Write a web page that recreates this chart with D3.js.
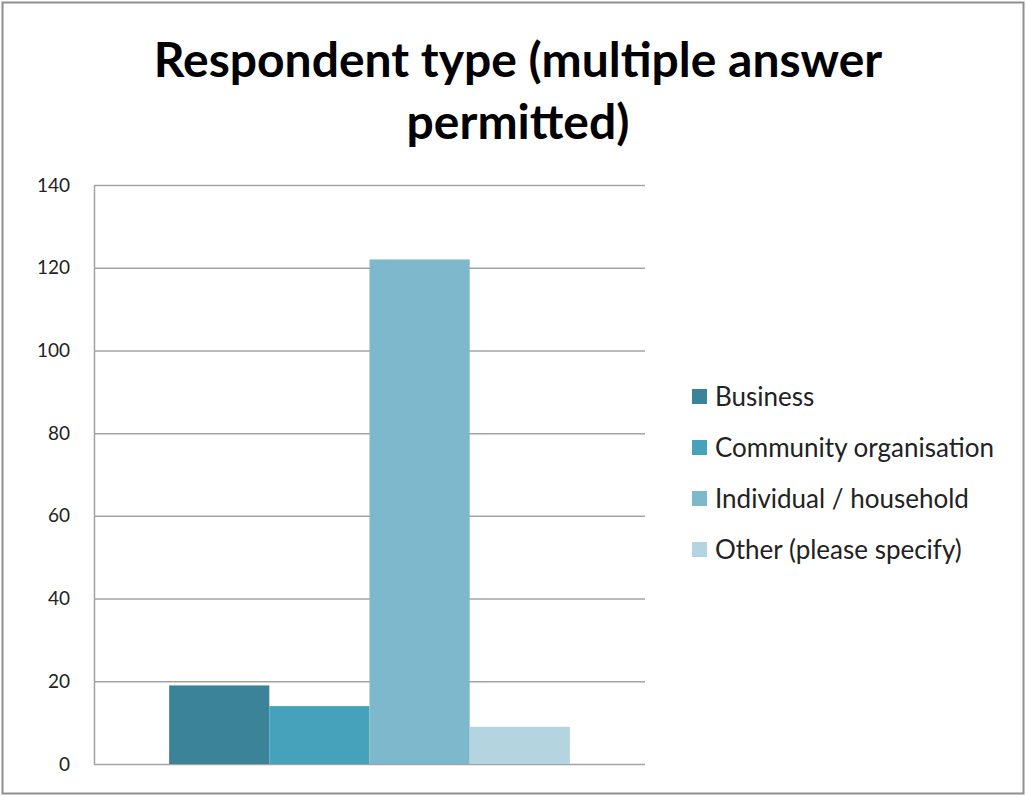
<!DOCTYPE html>
<html>
<head>
<meta charset="utf-8">
<script src="https://cdn.jsdelivr.net/npm/d3@7"></script>
<style>
  html, body { margin: 0; padding: 0; background: #fff; }
  svg { display: block; }
</style>
</head>
<body>
<svg id="chart" width="1026" height="797"></svg>
<script>
// Survey responses by respondent type
const seriesNames = ["Business", "Community organisation", "Individual / household", "Other (please specify)"];
const seriesValues = [19, 14, 122, 9];
const seriesColors = ["#3a8399", "#46a1bb", "#7db8cd", "#b4d4e0"];
const yTicks = [0, 20, 40, 60, 80, 100, 120, 140];
const titleLines = ["Respondent type (multiple answer", "permitted)"];

const svg = d3.select("#chart");
const W = 1026, H = 797;
const font = "Lato, 'Open Sans', sans-serif";

// outer chart frame
svg.append("rect")
  .attr("x", 2.5).attr("y", 2.5)
  .attr("width", W - 5).attr("height", H - 6)
  .attr("fill", "#fff")
  .attr("stroke", "#8f8f8f")
  .attr("stroke-width", 2);

// title
svg.append("g").selectAll("text")
  .data(titleLines)
  .join("text")
  .attr("x", 518)
  .attr("y", (d, i) => 77 + i * 62)
  .attr("text-anchor", "middle")
  .attr("font-family", font)
  .attr("font-weight", 700)
  .attr("font-size", 48)
  .attr("fill", "#000")
  .text(d => d);

const plot = { left: 94, right: 645, top: 185, bottom: 764 };

const y = d3.scaleLinear().domain([0, 140]).range([plot.bottom, plot.top]);

// single category band holding the four series bars
const x0 = d3.scaleBand().domain(["all"]).range([plot.left, plot.right]).padding(0);
const x1 = d3.scaleBand()
  .domain(seriesNames)
  .range([0, x0.bandwidth()])
  .paddingInner(0)
  .paddingOuter(0.75);

// gridlines
svg.append("g")
  .attr("transform", `translate(${plot.left},0)`)
  .call(d3.axisLeft(y).tickValues(yTicks).tickSize(-(plot.right - plot.left)).tickFormat(""))
  .call(g => g.select(".domain").remove())
  .call(g => g.selectAll("line").attr("stroke", "#a3a3a3").attr("stroke-width", 1.5));

// y axis line and labels
svg.append("g")
  .attr("transform", `translate(${plot.left},0)`)
  .call(d3.axisLeft(y).tickValues(yTicks).tickSize(0).tickPadding(24))
  .call(g => g.select(".domain").attr("stroke", "#a3a3a3").attr("stroke-width", 1.5))
  .call(g => g.selectAll("text")
    .attr("font-family", font)
    .attr("font-size", 19)
    .attr("fill", "#222"));

// bars
svg.append("g")
  .selectAll("rect")
  .data(seriesNames.map((n, i) => ({ name: n, value: seriesValues[i], color: seriesColors[i] })))
  .join("rect")
  .attr("x", d => x0("all") + x1(d.name))
  .attr("y", d => y(d.value))
  .attr("width", x1.bandwidth())
  .attr("height", d => y(0) - y(d.value))
  .attr("fill", d => d.color);

// legend
const legend = svg.append("g").attr("transform", "translate(692,397)");
const item = legend.selectAll("g")
  .data(seriesNames)
  .join("g")
  .attr("transform", (d, i) => `translate(0,${i * 51})`);
item.append("rect")
  .attr("x", 0).attr("y", -8)
  .attr("width", 15).attr("height", 15)
  .attr("fill", (d, i) => seriesColors[i]);
item.append("text")
  .attr("x", 23)
  .attr("y", 0)
  .attr("dy", "0.35em")
  .attr("font-family", font)
  .attr("font-size", 26)
  .attr("fill", "#222")
  .text(d => d);
</script>
</body>
</html>
